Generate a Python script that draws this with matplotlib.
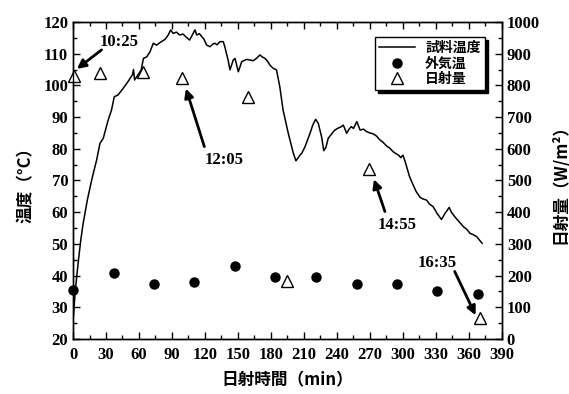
import matplotlib.pyplot as plt
from matplotlib.ticker import MultipleLocator

# sample temperature trace (min, degC)
sample_t = [0.5, 1.5, 3, 5, 7, 9, 11, 13, 17, 21.5, 24.5, 27.5, 32, 35, 37.5, 41,
            45.7, 50, 54, 55, 56, 59, 62, 64, 67, 70, 73, 76, 79, 83.6, 86.6, 88.8,
            91, 94, 97, 100, 103, 106, 108, 110.9, 112.4, 115, 117, 119, 121.5, 124.5,
            127, 129, 131, 133.6, 136.6, 138, 141, 142.7, 145.7, 147.3, 150.3, 153.4,
            157.9, 161, 164, 167, 170, 172, 174.5, 177, 179, 182, 185, 188, 191, 195.7,
            200.3, 202.7, 206.4, 208, 211, 215.5, 218, 220.6, 223, 226, 228, 230, 232,
            236.7, 238, 241, 244, 245.7, 248.8, 251, 253, 255, 258, 261, 264, 267, 270,
            273, 276, 279, 282, 285, 288, 291, 293, 296, 298, 300, 302, 306, 309, 312,
            315.5, 318, 321.5, 324, 327.5, 331, 335, 338, 342, 344, 347, 351, 355, 358,
            361, 364, 367, 370, 372]
sample_temp = [27.5, 32.5, 38.5, 45, 51, 56, 60, 63.8, 70.2, 76.5, 81.7, 83.3, 89.1, 92.2,
               96.4, 97, 99.1, 101.2, 103.3, 105, 101.7, 103.3, 104.9, 108.5, 109, 110.6,
               113.3, 112.7, 113.5, 114.5, 115.9, 117.5, 116.4, 116.8, 115.9, 116.2, 115.2,
               114.3, 115.6, 117.5, 115.9, 116.3, 115.4, 114.6, 112.7, 112.2, 113.0, 113.3,
               112.8, 113.8, 113.8, 112.2, 108, 104.9, 108, 108.5, 104.3, 107.5, 108.2,
               108.0, 107.8, 108.6, 109.6, 109.0, 108.5, 107.6, 106.4, 105.4, 104.9, 99.6,
               92.2, 84.9, 78.6, 76.2, 78, 78.6, 80.7, 84.9, 87.5, 89.3, 88, 83.8, 79.4,
               80.5, 83.3, 85.4, 85.9, 86.5, 87, 87.5, 84.9, 86.2, 87, 86.4, 88.6, 85.9,
               86.2, 85.4, 85.0, 84.7, 84.0, 82.8, 82.0, 80.9, 80.2, 79.1, 78.6, 78.0, 77.2,
               78.0, 75.9, 71.2, 68.8, 66.5, 64.7, 64.2, 63.8, 62.6, 61.7, 59.6, 57.7, 59.5,
               61.5, 60.0, 58.6, 57.0, 55.4, 54.6, 53.3, 52.9, 52.3, 51.0, 50.2]

# outside air temperature (min, degC)
air_t = [0, 37, 74, 110, 147, 184, 221, 258, 295, 331, 368]
air_temp = [35.5, 40.8, 37.3, 38.0, 42.9, 39.4, 39.6, 37.3, 37.3, 35.0, 34.1]

# solar radiation (min, W/m2)
sun_t = [1, 24.5, 64, 99, 159, 195, 269, 370]
sun_rad = [830, 840, 842, 824, 762, 182, 536, 65]

# time stamps: label, text pos, arrow tail, arrow head (min, degC)
notes = [
    ("10:25", (41.5, 113.8), (26, 111.2), (3.5, 105.2)),
    ("12:05", (137, 76.5), (119.4, 80.7), (102.7, 99.0)),
    ("14:55", (294.5, 56.0), (283.6, 60.2), (273.6, 70.4)),
    ("16:35", (331, 44.0), (347, 41.3), (366, 27.5)),
]

serif = "Liberation Serif"
jp = ["Noto Sans CJK JP", "DejaVu Sans"]

fig = plt.figure(figsize=(5.69, 3.94), dpi=100)
ax = fig.add_axes([0.1283, 0.1396, 0.7539, 0.8046])
ax2 = ax.twinx()

ax.plot(sample_t, sample_temp, color="k", lw=1.1, label="試料温度")
ax.plot(air_t, air_temp, "o", color="k", ms=6.5, label="外気温", clip_on=False)
ax2.plot(sun_t, sun_rad, "^", mfc="white", mec="k", mew=1.0, ms=8, label="日射量",
         clip_on=False)

ax.set_xlim(0, 390)
ax.set_ylim(20, 120)
ax2.set_ylim(0, 1000)

ax.xaxis.set_major_locator(MultipleLocator(30))
ax.xaxis.set_minor_locator(MultipleLocator(15))
ax.yaxis.set_major_locator(MultipleLocator(10))
ax.yaxis.set_minor_locator(MultipleLocator(5))
ax2.yaxis.set_major_locator(MultipleLocator(100))
ax2.yaxis.set_minor_locator(MultipleLocator(50))

ax.tick_params(which="both", direction="in", top=True, right=False, width=1)
ax.tick_params(which="major", length=5)
ax.tick_params(which="minor", length=3)
ax.tick_params(axis="x", pad=6)
ax2.tick_params(which="both", direction="in", width=1)
ax2.tick_params(which="major", length=5)
ax2.tick_params(which="minor", length=3)

for a in (ax, ax2):
    for lab in a.get_xticklabels() + a.get_yticklabels():
        lab.set_fontfamily(serif)
        lab.set_fontweight("bold")
        lab.set_fontsize(12)
    for s in a.spines.values():
        s.set_linewidth(1)

ax.set_xlabel("日射時間（min）", family=jp, fontweight="bold", fontsize=12, labelpad=6)
ax.set_ylabel("温度（°C）", family=jp, fontweight="bold", fontsize=12, labelpad=6)
ax2.set_ylabel("日射量（W/m²）", family=jp, fontweight="bold", fontsize=12, labelpad=8)

for label, txt, tail, head in notes:
    ax.text(txt[0], txt[1], label, family=serif, fontweight="bold", fontsize=12,
            ha="center", va="center", zorder=6)
    ax.annotate("", xy=head, xytext=tail,
                arrowprops=dict(arrowstyle="-|>", color="k", lw=2, mutation_scale=13,
                                shrinkA=0, shrinkB=0), zorder=6)

h1, l1 = ax.get_legend_handles_labels()
h2, l2 = ax2.get_legend_handles_labels()
leg = ax2.legend(h1 + h2, l1 + l2, loc="upper right", bbox_to_anchor=(0.96, 0.953),
                 borderaxespad=0, fancybox=False, framealpha=1, edgecolor="k",
                 handlelength=2.6, labelspacing=0.1, borderpad=0.3, handletextpad=0.7,
                 shadow={"color": "k", "alpha": 1},
                 prop={"family": jp, "weight": "bold", "size": 10})
leg.get_frame().set_linewidth(1)

fig.savefig("out.png", dpi=100)
